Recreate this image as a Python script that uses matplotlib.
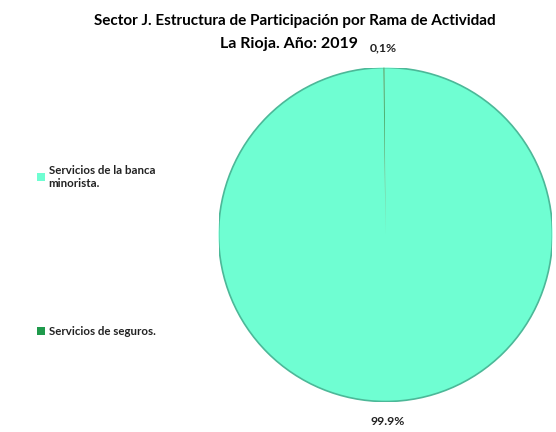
import matplotlib.pyplot as plt
from matplotlib.patches import Patch, Circle

categorias = ['Servicios de la banca\nminorista.', 'Servicios de seguros.']
valores = [99.9, 0.1]
etiquetas = ['99.9%', '0,1%']
colores = ['#6ffed2', '#1f9a4c']

plt.rcParams['font.family'] = ['Lato', 'DejaVu Sans']

fig = plt.figure(figsize=(5.56, 4.32), dpi=100)
fig.text(0.531, 0.951, 'Sector J. Estructura de Participación por Rama de Actividad',
         ha='center', va='center', fontsize=11, fontweight='bold')
fig.text(0.519, 0.898, 'La Rioja. Año: 2019',
         ha='center', va='center', fontsize=11.5, fontweight='bold')

ax = fig.add_axes([0.393, 0.0706, 0.6007, 0.773])
wedges, texts = ax.pie(valores, colors=colores, startangle=90.36, counterclock=False,
                       labels=etiquetas, labeldistance=1.12,
                       wedgeprops=dict(edgecolor='none', linewidth=0),
                       textprops=dict(fontsize=8.8, fontweight='bold', color='#222222'))
for t in texts:
    t.set_ha('center')
# soft darker rim like the original
ax.add_patch(Circle((0, 0), 1, facecolor='none', edgecolor='#4cb898', linewidth=1.2))
ax.set_xlim(-1, 1)
ax.set_ylim(-1, 1)
ax.set_aspect('equal')

handles = [Patch(facecolor=c, edgecolor='none') for c in colores]
leg = fig.legend(handles, categorias, loc='upper left', bbox_to_anchor=(0.048, 0.642),
                 frameon=False, fontsize=8.3, handlelength=0.7, handleheight=0.7,
                 handletextpad=0.3, labelspacing=11.9, alignment='left')
for t in leg.get_texts():
    t.set_fontweight('bold')
    t.set_color('#222222')

plt.savefig('out.png', dpi=100)
